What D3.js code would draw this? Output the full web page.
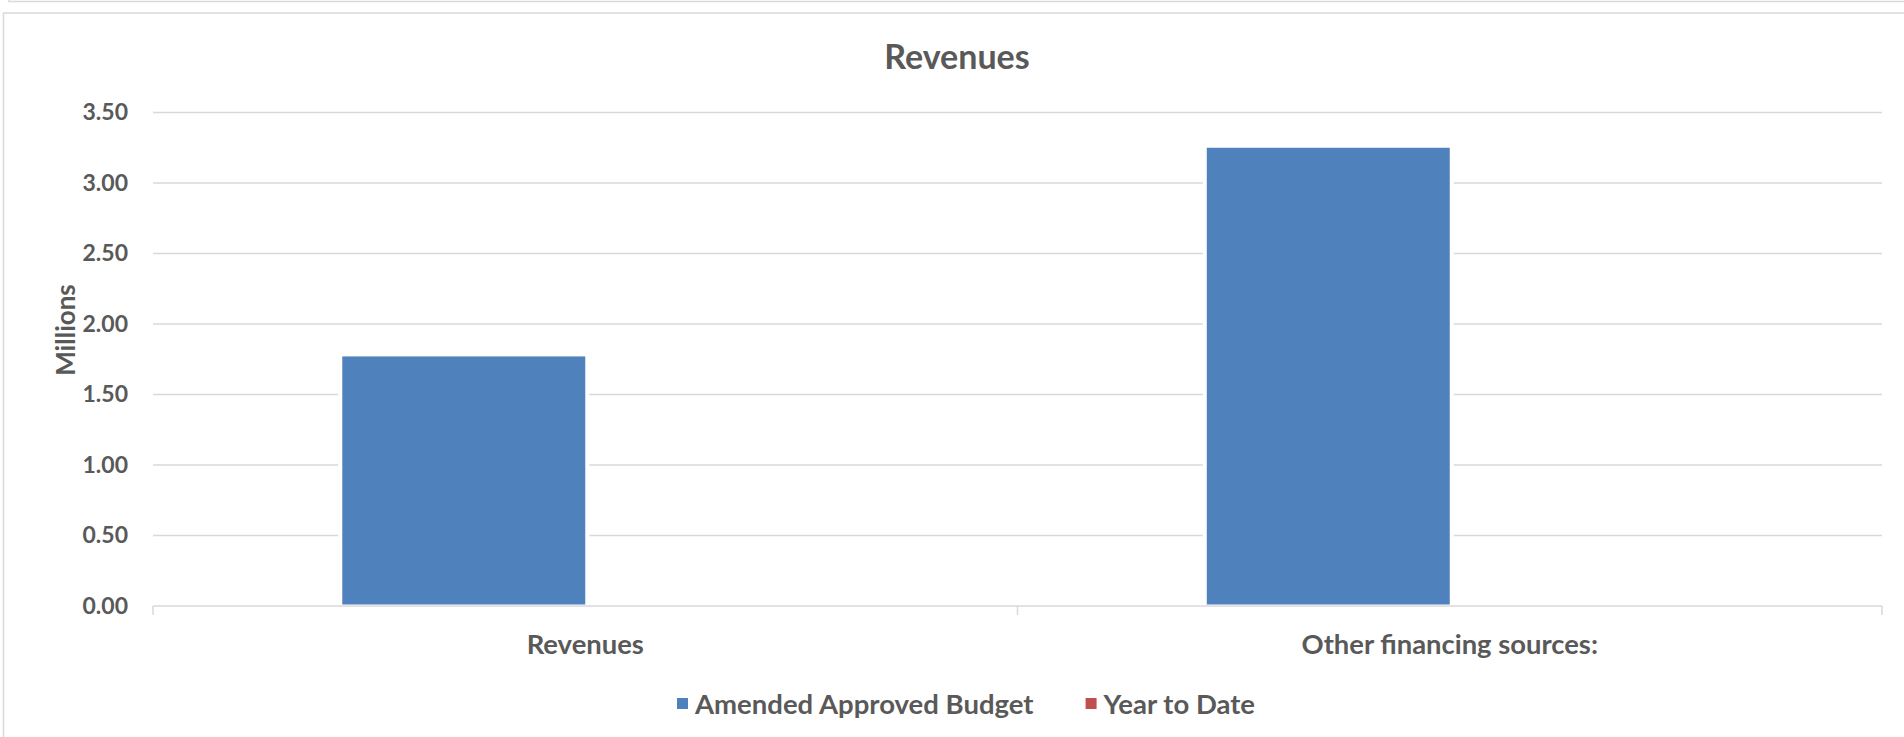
<!DOCTYPE html>
<html>
<head>
<meta charset="utf-8">
<script src="https://cdn.jsdelivr.net/npm/d3@7"></script>
<style>
  html, body { margin: 0; padding: 0; background: #ffffff; }
  svg { display: block; }
  text { font-family: Lato, "Open Sans", sans-serif; font-weight: bold; fill: #595959; }
</style>
</head>
<body>
<svg id="chart" width="1904" height="737"></svg>
<script>
// Chart data (values in millions)
const categories = ["Revenues", "Other financing sources:"];
const seriesNames = ["Amended Approved Budget", "Year to Date"];
const amendedBudget = [1.77, 3.25];
const yearToDate = [0, 0];
const seriesColors = ["#4F81BD", "#C0504D"];
const yTicks = [0, 0.5, 1, 1.5, 2, 2.5, 3, 3.5];

const seriesValues = [amendedBudget, yearToDate];
const rows = categories.map((c, i) => ({
  category: c,
  values: seriesNames.map((s, j) => ({ series: s, value: seriesValues[j][i] }))
}));

const svg = d3.select("#chart");
const gridColor = "#D9D9D9";

// Outer frames
svg.append("rect")
  .attr("x", 9).attr("y", -20).attr("width", 1920).attr("height", 21.5)
  .attr("fill", "none").attr("stroke", gridColor).attr("stroke-width", 1.5);
svg.append("rect")
  .attr("x", 3.5).attr("y", 13).attr("width", 1920).attr("height", 760)
  .attr("fill", "#ffffff").attr("stroke", gridColor).attr("stroke-width", 1.5);

// Plot area
const plot = { left: 153, right: 1882, top: 112.5, bottom: 606 };

const y = d3.scaleLinear().domain([0, 3.5]).range([plot.bottom, plot.top]);
const x0 = d3.scaleBand().domain(categories).range([plot.left, plot.right]).paddingInner(0).paddingOuter(0);
const x1 = d3.scaleBand().domain(seriesNames).range([0, x0.bandwidth()]).paddingInner(0).paddingOuter(0.779);
const color = d3.scaleOrdinal().domain(seriesNames).range(seriesColors);

// Title
svg.append("text")
  .attr("x", 957).attr("y", 69)
  .attr("text-anchor", "middle")
  .style("font-size", "34px")
  .text("Revenues");

// Horizontal gridlines
svg.append("g")
  .selectAll("line")
  .data(yTicks.filter(d => d > 0))
  .join("line")
  .attr("x1", plot.left).attr("x2", plot.right)
  .attr("y1", d => y(d)).attr("y2", d => y(d))
  .attr("stroke", gridColor).attr("stroke-width", 1.5);

// Y axis labels
const yAxis = d3.axisLeft(y).tickValues(yTicks).tickFormat(d3.format(".2f")).tickSize(0).tickPadding(25);
const yG = svg.append("g").attr("transform", `translate(${plot.left},0)`).call(yAxis);
yG.select(".domain").remove();
yG.selectAll("text")
  .style("font-size", "23px")
  .attr("fill", "#595959")
  .attr("font-family", null);

// Axis title
svg.append("text")
  .attr("transform", "translate(75,330) rotate(-90)")
  .attr("text-anchor", "middle")
  .style("font-size", "26px")
  .text("Millions");

// Bars with a white surround
const groups = svg.append("g")
  .selectAll("g")
  .data(rows)
  .join("g")
  .attr("transform", d => `translate(${x0(d.category)},0)`);

groups.selectAll("rect.halo")
  .data(d => d.values.filter(v => v.value > 0))
  .join("rect")
  .attr("class", "halo")
  .attr("x", d => x1(d.series) - 4)
  .attr("y", d => y(d.value) - 4)
  .attr("width", x1.bandwidth() + 8)
  .attr("height", d => y(0) - y(d.value) + 4)
  .attr("fill", "#ffffff");

groups.selectAll("rect.bar")
  .data(d => d.values)
  .join("rect")
  .attr("class", "bar")
  .attr("x", d => x1(d.series))
  .attr("y", d => y(d.value))
  .attr("width", x1.bandwidth())
  .attr("height", d => Math.max(0, y(0) - y(d.value) - 1.5))
  .attr("fill", d => color(d.series));

// Category axis
const xAxis = d3.axisBottom(x0).tickSize(0).tickPadding(0);
const xG = svg.append("g").attr("transform", `translate(0,${plot.bottom})`).call(xAxis);
xG.select(".domain").remove();
xG.selectAll("text")
  .attr("y", 48)
  .attr("dy", null)
  .style("font-size", "27.4px")
  .attr("fill", "#595959")
  .attr("font-family", null);

svg.append("line")
  .attr("x1", plot.left).attr("x2", plot.right)
  .attr("y1", plot.bottom).attr("y2", plot.bottom)
  .attr("stroke", gridColor).attr("stroke-width", 1.5);

// Category boundary tick marks
const boundaries = [plot.left].concat(categories.map(c => x0(c) + x0.bandwidth()));
svg.append("g")
  .selectAll("line")
  .data(boundaries)
  .join("line")
  .attr("x1", d => d).attr("x2", d => d)
  .attr("y1", plot.bottom).attr("y2", plot.bottom + 9)
  .attr("stroke", gridColor).attr("stroke-width", 1.5);

// Legend
const legend = svg.append("g").attr("transform", "translate(677,704)");
let cursor = 0;
seriesNames.forEach((name, i) => {
  const item = legend.append("g").attr("transform", `translate(${cursor},0)`);
  item.append("rect")
    .attr("x", 0).attr("y", -6).attr("width", 11).attr("height", 11)
    .attr("fill", color(name));
  const t = item.append("text")
    .attr("x", 18).attr("y", 9.5)
    .style("font-size", "27.5px")
    .text(name);
  cursor += 18 + t.node().getComputedTextLength() + 52;
});
</script>
</body>
</html>
